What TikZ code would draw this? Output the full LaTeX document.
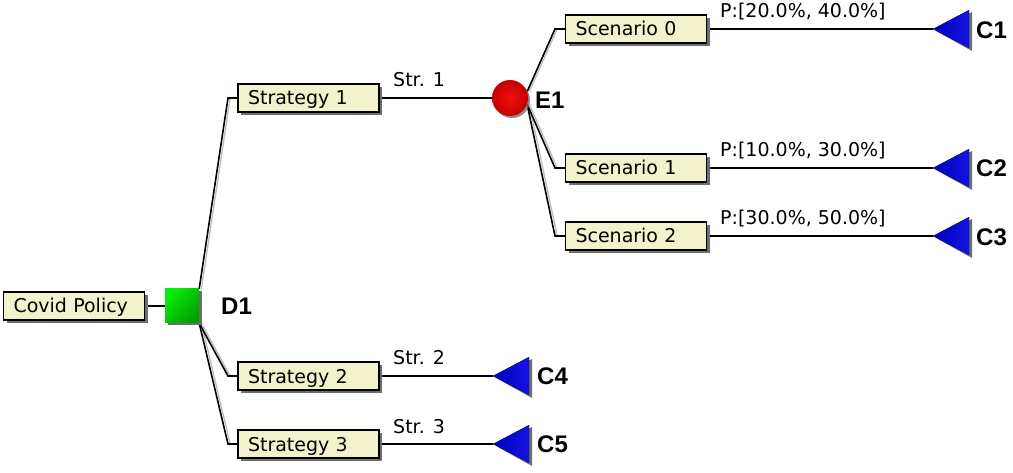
\documentclass[tikz,border=0pt]{standalone}
\usepackage{fontspec}
\setmainfont{DejaVu Sans}
\newfontfamily\tagfont{Liberation Sans}
\usetikzlibrary{shadows,calc}
\definecolor{boxfill}{RGB}{242,242,204}
\definecolor{sqlight}{RGB}{10,235,10}
\definecolor{sqdark}{RGB}{0,160,0}
\definecolor{tribright}{RGB}{20,20,225}
\definecolor{tridark}{RGB}{0,0,185}
\definecolor{shadowgray}{RGB}{110,110,110}
\definecolor{linegray}{RGB}{190,190,190}
\definecolor{redin}{RGB}{245,15,15}
\definecolor{redout}{RGB}{195,0,0}
\pgfdeclarelayer{background}
\pgfsetlayers{background,main}
\newcommand\costtri[1]{%
  \fill[shadowgray] ($(#1)+(3,2)$) -- ($(#1)+(39,-17)$) -- ($(#1)+(39,22)$) -- cycle;
  \fill[left color=tridark, right color=tribright] (#1) -- ($(#1)+(36,-19)$) -- ($(#1)+(36,19)$) -- cycle;}
\begin{document}
\begin{tikzpicture}[x=1pt,y=-1pt,
  box/.style={draw=black, line width=1.5pt, fill=boxfill, text width=121pt, inner xsep=10pt, inner ysep=0pt,
    align=left, minimum height=28pt, text height=14pt, text depth=0pt, font=\fontsize{19}{22}\selectfont,
    drop shadow={shadow xshift=3pt, shadow yshift=-3pt, fill=shadowgray, opacity=1}},
  lab/.style={anchor=base west, inner sep=0pt, font=\fontsize{19}{22}\selectfont},
  tag/.style={anchor=west, inner sep=0pt, text height=17pt, text depth=0pt, font=\tagfont\bfseries\fontsize{24}{26}\selectfont},
  conn/.style={draw=black, line width=1.6pt},
  connsh/.style={draw=linegray, line width=1.3pt, transform canvas={xshift=2.2pt}},
]
\useasboundingbox (0,0) rectangle (1013,473);

% boxes
\node[box] (cp) at (74,306) {Covid Policy};
\node[box] (st1) at (308.5,98) {Strategy 1};
\node[box] (st2) at (308.5,376) {Strategy 2};
\node[box] (st3) at (308.5,444) {Strategy 3};
\node[box] (sc0) at (636,29) {Scenario 0};
\node[box] (sc1) at (636,168) {Scenario 1};
\node[box] (sc2) at (636,236) {Scenario 2};

% decision node
\node[minimum size=34pt, inner sep=0pt, top color=sqlight, bottom color=sqdark, shading angle=45,
  drop shadow={shadow xshift=3pt, shadow yshift=-2pt, fill=shadowgray, opacity=1}] (d1) at (182,306) {};
% chance node
\node[circle, minimum size=36pt, inner sep=0pt, inner color=redin, outer color=redout,
  drop shadow={shadow xshift=2pt, shadow yshift=-2pt, fill=shadowgray, opacity=0.8}] (e1) at (510,98) {};

% bend points
\coordinate (k1) at (228,98);
\coordinate (k2) at (228,376);
\coordinate (k3) at (228,444);
\coordinate (k4) at (555,29);
\coordinate (k5) at (555,168);
\coordinate (k6) at (555,236);
% terminal tips
\coordinate (c1t) at (933,29);
\coordinate (c2t) at (933,168);
\coordinate (c3t) at (933,236);
\coordinate (c4t) at (493,376);
\coordinate (c5t) at (493,444);

\costtri{c1t}
\costtri{c2t}
\costtri{c3t}
\costtri{c4t}
\costtri{c5t}

% connectors
\begin{pgfonlayer}{background}
\foreach \st in {connsh,conn}{
  \draw[\st] (cp) -- (d1);
  \draw[\st] (d1.north east) -- (k1) -- (st1);
  \draw[\st] (d1.south east) -- (k2) -- (st2);
  \draw[\st] (d1.south east) -- (k3) -- (st3);
  \draw[\st] (st1) -- (e1);
  \draw[\st] (st2) -- (c4t);
  \draw[\st] (st3) -- (c5t);
  \draw[\st] (e1.20) -- (k4) -- (sc0);
  \draw[\st] (e1.-20) -- (k5) -- (sc1);
  \draw[\st] (e1.-20) -- (k6) -- (sc2);
  \draw[\st] (sc0) -- (c1t);
  \draw[\st] (sc1) -- (c2t);
  \draw[\st] (sc2) -- (c3t);
}
\end{pgfonlayer}

% labels
\node[tag] (d1l) at (221,306) {D1};
\node[tag] (e1l) at (535,100) {E1};
\node[tag] (c1l) at (976,30) {C1};
\node[tag] (c2l) at (976,168) {C2};
\node[tag] (c3l) at (976,237) {C3};
\node[tag] (c4l) at (537,376) {C4};
\node[tag] (c5l) at (537,444) {C5};

\node[lab] (l1) at (393,87) {Str. 1};
\node[lab] (l2) at (393,365) {Str. 2};
\node[lab] (l3) at (393,433) {Str. 3};
\node[lab] (p0) at (720,18) {P:[20.0\%, 40.0\%]};
\node[lab] (p1) at (720,157) {P:[10.0\%, 30.0\%]};
\node[lab] (p2) at (720,225) {P:[30.0\%, 50.0\%]};
\end{tikzpicture}
\end{document}
